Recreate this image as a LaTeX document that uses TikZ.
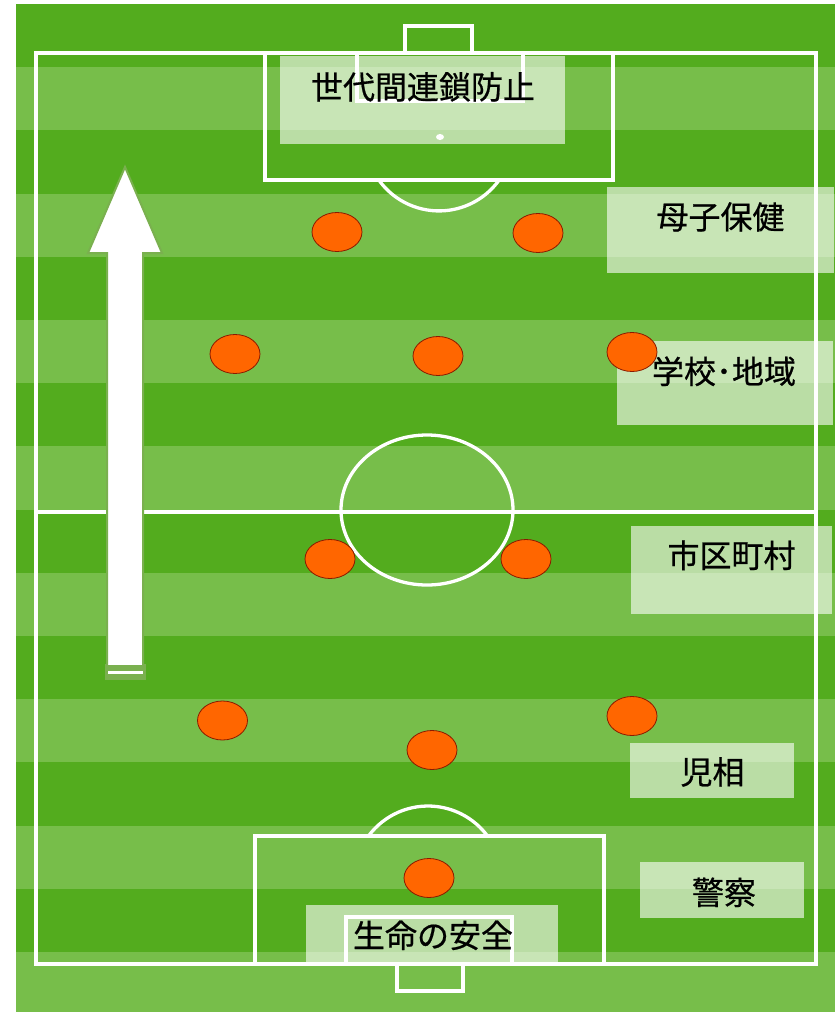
\documentclass[tikz,border=0pt]{standalone}
\usepackage{fontspec}
\newfontfamily\cjk[FakeBold=0.6]{Noto Sans CJK JP}
\usetikzlibrary{shapes.geometric}
\definecolor{darkg}{HTML}{53AC1E}
\definecolor{lightg}{HTML}{77BE4A}
\definecolor{orng}{HTML}{FF6600}
\definecolor{orngline}{HTML}{8B1A00}
\definecolor{arrowedge}{HTML}{7AB04F}
\begin{document}
\begin{tikzpicture}[x=1pt,y=-1pt,
  pitch/.style={draw=white,line width=3.3pt},
  labelbox/.style={fill=white,fill opacity=0.6},
  player/.style={ellipse,draw=orngline,fill=orng,line width=0.8pt,minimum width=50pt,minimum height=39pt,inner sep=0pt},
  lbl/.style={anchor=base,inner sep=0pt,font=\cjk\fontsize{32}{32}\selectfont,text=black}]
\useasboundingbox (0,0) rectangle (839,1012);
\fill[white] (0,0) rectangle (839,1012);
% field stripes
\fill[darkg] (16,4) rectangle (835,1012);
\foreach \i in {1,3,...,13} \fill[lightg] (16,{4+63.2*\i}) rectangle (835,{4+63.2*(\i+1)});
\fill[lightg] (16,{4+63.2*15}) rectangle (835,1012);
% pitch lines
\draw[pitch] (36,53) rectangle (816,964);
\draw[pitch] (36,512) -- (816,512);
\draw[pitch] (427,510) ellipse [x radius=86, y radius=75];
\draw[pitch] (265,53) rectangle (613,180);
\draw[pitch] (357,53) rectangle (523,101);
\draw[pitch] (405,26) rectangle (472,53);
\draw[pitch] (378.8,180) arc[start angle=144.4, end angle=35.6, radius=74];
\fill[white] (440,137) ellipse [x radius=4, y radius=3];
\draw[pitch] (255,836) rectangle (604,964);
\draw[pitch] (346,917) rectangle (512,964);
\draw[pitch] (397,964) rectangle (463,991);
\draw[pitch] (368.5,836) arc[start angle=216.5, end angle=323.5, radius=74];
% label boxes
\fill[labelbox] (280,56) rectangle (565,144);
\fill[labelbox] (607,187) rectangle (834,273);
\fill[labelbox] (617,341) rectangle (833,425);
\fill[labelbox] (631,526) rectangle (832,614);
\fill[labelbox] (630,743) rectangle (794,798);
\fill[labelbox] (640,862) rectangle (804,918);
\fill[labelbox] (306,905) rectangle (558,962);
% arrow
\fill[arrowedge] (105,664) rectangle (145.5,680);
\fill[white] (108,671) rectangle (143,674);
\draw[arrowedge,line width=2pt,fill=white,line join=miter] (125,167) -- (162,253) -- (143,253) -- (143,666) -- (107,666) -- (107,253) -- (88,253) -- cycle;
% players
\node[player] (p1) at (337,232) {};
\node[player] (p2) at (538,233) {};
\node[player] (p3) at (235,354) {};
\node[player] (p4) at (438,356) {};
\node[player] (p5) at (632,352) {};
\node[player] (p6) at (330,559) {};
\node[player] (p7) at (526,559) {};
\node[player] (p8) at (222.5,720.5) {};
\node[player] (p9) at (432,750) {};
\node[player] (p10) at (632,716) {};
\node[player] (p11) at (429,878) {};
% labels
\node[lbl] (t1) at (423,99) {世代間連鎖防止};
\node[lbl] (t2) at (720.5,229) {母子保健};
\node[lbl] (t3) at (724,383.5) {学校･地域};
\node[lbl] (t4) at (731.5,567.5) {市区町村};
\node[lbl] (t5) at (712.5,784) {児相};
\node[lbl] (t6) at (724,904.5) {警察};
\node[lbl] (t7) at (433,947.5) {生命の安全};
\end{tikzpicture}
\end{document}
